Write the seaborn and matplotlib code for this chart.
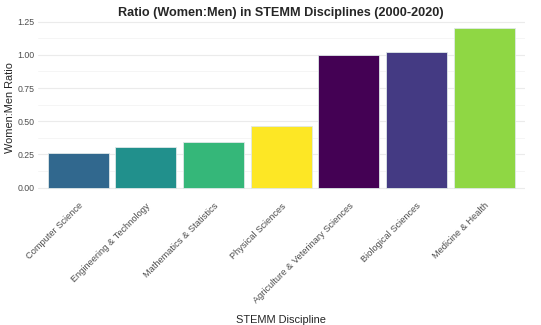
import matplotlib
matplotlib.use("Agg")
import matplotlib.pyplot as plt
import seaborn as sns
import pandas as pd
from matplotlib.ticker import MultipleLocator

disciplines = ["Computer Science", "Engineering & Technology", "Mathematics & Statistics",
               "Physical Sciences", "Agriculture & Veterinary Sciences",
               "Biological Sciences", "Medicine & Health"]
ratios = [0.26, 0.305, 0.343, 0.467, 1.00, 1.02, 1.20]

# viridis discrete colours assigned alphabetically (as ggplot fill scale)
alpha_order = sorted(disciplines)
viridis7 = ["#440154", "#443A83", "#31688E", "#21908C", "#35B779", "#8FD744", "#FDE725"]
palette = {d: c for d, c in zip(alpha_order, viridis7)}

df = pd.DataFrame({"Discipline": disciplines, "Ratio": ratios})

sns.set_theme(style="white")
plt.rcParams["font.family"] = ["Liberation Sans", "DejaVu Sans"]

fig = plt.figure(figsize=(5.41, 3.25), dpi=100)
ax = fig.add_axes([0.0695, 0.398, 0.9005, 0.541])

sns.barplot(data=df, x="Discipline", y="Ratio", hue="Discipline", palette=palette,
            order=disciplines, width=0.9, legend=False, ax=ax, saturation=1,
            edgecolor="#dfe8e8", linewidth=0.6)

ax.set_xlim(-0.6, len(disciplines) - 0.4)
ax.set_ylim(-0.06, 1.264)
ax.yaxis.set_major_locator(MultipleLocator(0.25))
ax.yaxis.set_minor_locator(MultipleLocator(0.125))
ax.yaxis.set_major_formatter(matplotlib.ticker.FormatStrFormatter("%.2f"))
ax.grid(axis="y", which="major", color="#ebebeb", linewidth=0.8)
ax.grid(axis="y", which="minor", color="#f4f4f4", linewidth=0.6)
ax.set_axisbelow(True)
for s in ax.spines.values():
    s.set_visible(False)
ax.tick_params(axis="y", which="both", length=0, labelsize=6.3, labelcolor="#4d4d4d", pad=2)
ax.tick_params(axis="x", which="both", length=0, labelsize=6.7, labelcolor="#4d4d4d", pad=4)
plt.setp(ax.get_xticklabels(), rotation=45, ha="right", rotation_mode="anchor")

ax.set_title("Ratio (Women:Men) in STEMM Disciplines (2000-2020)", fontsize=9.1,
             fontweight="bold", pad=3)
ax.set_ylabel("Women:Men Ratio", fontsize=7.9, labelpad=2)
ax.set_xlabel("STEMM Discipline", fontsize=7.9, labelpad=7)

fig.savefig("out.png", dpi=100)
